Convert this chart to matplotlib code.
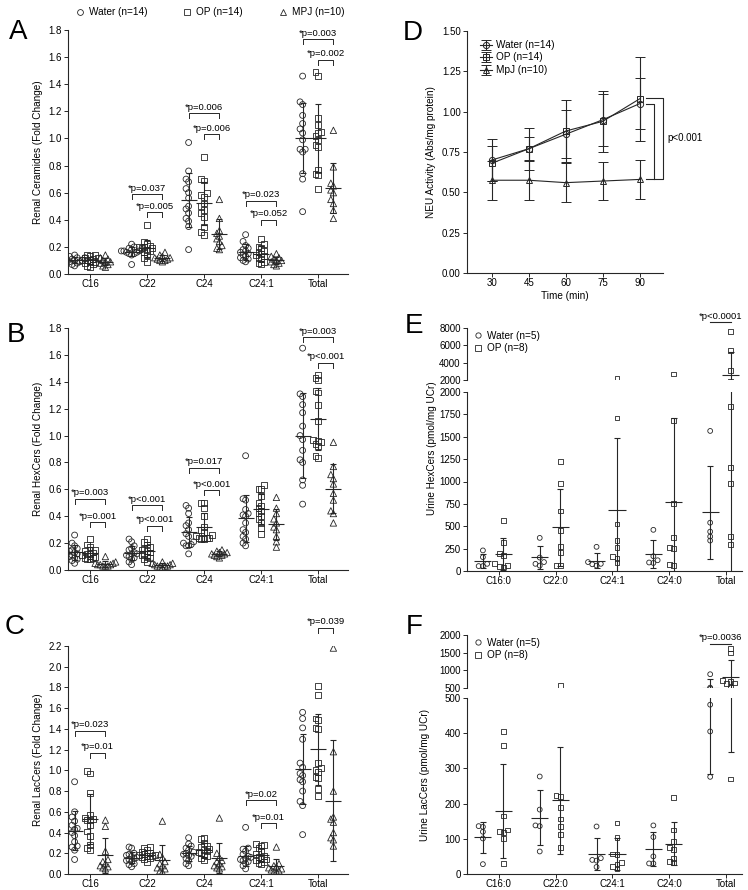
import matplotlib.pyplot as plt
import numpy as np
from matplotlib.lines import Line2D

plt.rcParams['font.family'] = ['Liberation Sans', 'DejaVu Sans']
plt.rcParams['font.size'] = 7
INK = '#262626'

renal_cats = ['C16', 'C22', 'C24', 'C24:1', 'Total']
urine_cats = ['C16:0', 'C22:0', 'C24:1', 'C24:0', 'Total']

# A - renal ceramides (fold change), one list per category
cer_water = [
    [0.14, 0.13, 0.12, 0.12, 0.11, 0.11, 0.10, 0.10, 0.10, 0.09, 0.09, 0.08, 0.07, 0.06],
    [0.22, 0.20, 0.19, 0.18, 0.18, 0.17, 0.17, 0.17, 0.16, 0.16, 0.15, 0.15, 0.14, 0.07],
    [0.97, 0.76, 0.70, 0.68, 0.63, 0.60, 0.56, 0.50, 0.48, 0.45, 0.41, 0.39, 0.35, 0.18],
    [0.29, 0.24, 0.21, 0.19, 0.18, 0.17, 0.16, 0.15, 0.14, 0.13, 0.12, 0.11, 0.10, 0.09],
    [1.46, 1.27, 1.25, 1.17, 1.11, 1.07, 1.04, 0.99, 0.92, 0.90, 0.74, 0.70, 0.46, 0.92],
]
cer_op = [
    [0.14, 0.14, 0.13, 0.12, 0.12, 0.11, 0.10, 0.10, 0.09, 0.09, 0.08, 0.07, 0.06, 0.05],
    [0.36, 0.24, 0.22, 0.21, 0.20, 0.20, 0.19, 0.19, 0.18, 0.17, 0.16, 0.14, 0.12, 0.09],
    [0.86, 0.70, 0.69, 0.60, 0.57, 0.52, 0.50, 0.47, 0.42, 0.45, 0.35, 0.31, 0.29, 0.58],
    [0.26, 0.22, 0.20, 0.19, 0.17, 0.16, 0.15, 0.14, 0.13, 0.12, 0.11, 0.09, 0.08, 0.07],
    [1.49, 1.46, 1.15, 1.10, 1.05, 1.04, 1.02, 0.99, 0.95, 0.94, 0.77, 0.74, 0.73, 0.63],
]
cer_mpj = [
    [0.14, 0.12, 0.11, 0.10, 0.09, 0.09, 0.08, 0.07, 0.06, 0.05],
    [0.16, 0.14, 0.13, 0.12, 0.12, 0.11, 0.11, 0.10, 0.10, 0.09],
    [0.55, 0.41, 0.32, 0.30, 0.28, 0.26, 0.24, 0.21, 0.19, 0.18],
    [0.15, 0.13, 0.12, 0.11, 0.10, 0.10, 0.09, 0.08, 0.07, 0.06],
    [1.06, 0.79, 0.67, 0.65, 0.62, 0.60, 0.55, 0.52, 0.47, 0.41],
]
cer_sig = [(1, 0, 0.59, '*p=0.037'), (1, 1, 0.455, '*p=0.005'),
           (2, 0, 1.185, '*p=0.006'), (2, 1, 1.03, '*p=0.006'),
           (3, 0, 0.54, '*p=0.023'), (3, 1, 0.40, '*p=0.052'),
           (4, 0, 1.73, '*p=0.003'), (4, 1, 1.58, '*p=0.002')]

# B - renal HexCers
hex_water = [
    [0.26, 0.20, 0.18, 0.16, 0.15, 0.14, 0.13, 0.12, 0.11, 0.10, 0.09, 0.08, 0.07, 0.05],
    [0.23, 0.21, 0.18, 0.16, 0.15, 0.13, 0.12, 0.12, 0.11, 0.10, 0.09, 0.08, 0.06, 0.04],
    [0.48, 0.46, 0.42, 0.35, 0.33, 0.30, 0.27, 0.25, 0.21, 0.20, 0.19, 0.18, 0.18, 0.12],
    [0.85, 0.53, 0.52, 0.45, 0.42, 0.41, 0.40, 0.35, 0.30, 0.28, 0.25, 0.23, 0.20, 0.18],
    [1.65, 1.31, 1.29, 1.23, 1.17, 1.07, 1.00, 0.97, 0.89, 0.82, 0.80, 0.67, 0.63, 0.49],
]
hex_op = [
    [0.23, 0.19, 0.17, 0.15, 0.14, 0.13, 0.12, 0.12, 0.11, 0.10, 0.09, 0.09, 0.08, 0.08],
    [0.23, 0.21, 0.19, 0.17, 0.16, 0.15, 0.14, 0.13, 0.12, 0.11, 0.10, 0.09, 0.08, 0.06],
    [0.50, 0.50, 0.46, 0.40, 0.32, 0.30, 0.28, 0.26, 0.25, 0.24, 0.24, 0.23, 0.23, 0.24],
    [0.63, 0.60, 0.60, 0.55, 0.50, 0.48, 0.46, 0.44, 0.42, 0.40, 0.38, 0.35, 0.31, 0.27],
    [1.45, 1.43, 1.41, 1.33, 1.32, 1.23, 1.11, 0.97, 0.96, 0.95, 0.94, 0.92, 0.85, 0.83],
]
hex_mpj = [
    [0.10, 0.06, 0.05, 0.05, 0.04, 0.04, 0.04, 0.03, 0.03, 0.03],
    [0.06, 0.05, 0.05, 0.04, 0.04, 0.03, 0.03, 0.03, 0.02, 0.02],
    [0.15, 0.14, 0.13, 0.13, 0.12, 0.12, 0.11, 0.11, 0.10, 0.09],
    [0.54, 0.46, 0.42, 0.38, 0.35, 0.32, 0.30, 0.25, 0.21, 0.17],
    [0.95, 0.77, 0.71, 0.68, 0.64, 0.57, 0.52, 0.44, 0.42, 0.35],
]
hex_sig = [(0, 0, 0.53, '*p=0.003'), (0, 1, 0.355, '*p=0.001'),
           (1, 0, 0.48, '*p<0.001'), (1, 1, 0.33, '*p<0.001'),
           (2, 0, 0.76, '*p=0.017'), (2, 1, 0.595, '*p<0.001'),
           (4, 0, 1.73, '*p=0.003'), (4, 1, 1.54, '*p<0.001')]

# C - renal LacCers
lac_water = [
    [0.89, 0.60, 0.55, 0.51, 0.47, 0.44, 0.43, 0.40, 0.37, 0.31, 0.27, 0.26, 0.23, 0.14],
    [0.26, 0.25, 0.20, 0.19, 0.18, 0.17, 0.16, 0.15, 0.14, 0.13, 0.12, 0.10, 0.09, 0.07],
    [0.35, 0.29, 0.27, 0.25, 0.23, 0.21, 0.20, 0.19, 0.18, 0.17, 0.15, 0.13, 0.10, 0.08],
    [0.45, 0.25, 0.24, 0.22, 0.19, 0.17, 0.16, 0.15, 0.14, 0.13, 0.12, 0.10, 0.08, 0.05],
    [1.56, 1.50, 1.41, 1.30, 1.07, 1.03, 0.97, 0.95, 0.91, 0.89, 0.80, 0.70, 0.66, 0.38],
]
lac_op = [
    [0.99, 0.97, 0.78, 0.57, 0.54, 0.53, 0.52, 0.52, 0.47, 0.41, 0.37, 0.28, 0.25, 0.23],
    [0.26, 0.25, 0.23, 0.21, 0.20, 0.19, 0.18, 0.18, 0.17, 0.17, 0.16, 0.15, 0.14, 0.12],
    [0.35, 0.34, 0.30, 0.27, 0.26, 0.24, 0.23, 0.22, 0.21, 0.20, 0.18, 0.17, 0.15, 0.13],
    [0.29, 0.28, 0.27, 0.25, 0.22, 0.19, 0.17, 0.16, 0.15, 0.14, 0.13, 0.12, 0.11, 0.10],
    [1.81, 1.73, 1.50, 1.49, 1.41, 1.40, 1.07, 1.02, 1.00, 0.98, 0.94, 0.93, 0.82, 0.75],
]
lac_mpj = [
    [0.52, 0.46, 0.22, 0.14, 0.12, 0.10, 0.08, 0.07, 0.06, 0.05],
    [0.51, 0.19, 0.16, 0.12, 0.10, 0.08, 0.06, 0.05, 0.03, 0.02],
    [0.54, 0.20, 0.16, 0.13, 0.12, 0.10, 0.08, 0.07, 0.06, 0.05],
    [0.26, 0.10, 0.08, 0.07, 0.06, 0.05, 0.04, 0.03, 0.02, 0.02],
    [2.18, 1.18, 0.80, 0.55, 0.53, 0.50, 0.40, 0.35, 0.33, 0.27],
]
lac_sig = [(0, 0, 1.38, '*p=0.023'), (0, 1, 1.17, '*p=0.01'),
           (3, 0, 0.71, '*p=0.02'), (3, 1, 0.49, '*p=0.01'),
           (4, 1, 2.375, '*p=0.039')]

# D - NEU activity
times = [30, 45, 60, 75, 90]
neu_water = [0.70, 0.77, 0.86, 0.95, 1.05]
neu_water_sd = [0.13, 0.13, 0.15, 0.16, 0.16]
neu_op = [0.68, 0.77, 0.88, 0.94, 1.08]
neu_op_sd = [0.11, 0.07, 0.19, 0.19, 0.26]
neu_mpj = [0.575, 0.575, 0.56, 0.57, 0.58]
neu_mpj_sd = [0.12, 0.12, 0.12, 0.12, 0.12]

# E - urine HexCers (pmol/mg UCr)
uhex_water = [[230, 155, 80, 55, 55], [370, 150, 100, 80, 60], [270, 100, 80, 75, 60],
              [460, 165, 120, 95, 90], [1565, 540, 440, 385, 340]]
uhex_op = [[560, 315, 195, 175, 80, 65, 50, 45],
           [1220, 975, 670, 455, 270, 205, 65, 60],
           [2190, 1710, 525, 340, 260, 165, 140, 95],
           [2700, 1680, 750, 375, 265, 250, 70, 65],
           [7600, 5400, 3100, 1835, 1160, 975, 385, 300]]

# F - urine LacCers (pmol/mg UCr)
ulac_water = [[134, 136, 120, 101, 28], [277, 183, 138, 136, 64], [135, 45, 38, 40, 20],
              [138, 105, 50, 30, 30], [890, 510, 481, 405, 276]]
ulac_op = [[405, 365, 165, 125, 120, 118, 100, 30],
           [565, 222, 220, 188, 156, 135, 112, 75],
           [145, 103, 57, 55, 33, 28, 22, 15],
           [218, 125, 92, 75, 70, 45, 35, 33],
           [1610, 1490, 720, 680, 640, 620, 530, 270]]

W, H = 748, 890


def rect(l, t, r, b):
    return [l / W, 1 - b / H, (r - l) / W, (b - t) / H]


def swarm(pix, dpx, dx):
    # simple beeswarm: pix are the y positions in pixels
    xs = np.zeros(len(pix))
    placed = []
    for i in np.argsort(pix):
        for k in [0, -1, 1, -2, 2, -3, 3, -4, 4, -5, 5]:
            x = k * dx
            if all(abs(pix[i] - py) >= dpx or abs(x - px) >= dx * 0.99 for py, px in placed):
                break
        placed.append((pix[i], x))
        xs[i] = x
    return xs


def style(ax):
    for s in ['top', 'right']:
        ax.spines[s].set_visible(False)
    for s in ['left', 'bottom']:
        ax.spines[s].set_color(INK)
        ax.spines[s].set_linewidth(0.8)
    ax.tick_params(length=3, width=0.7, color=INK, labelsize=7, pad=1.5)
    ax.tick_params(axis='x', pad=0.8)


def mean_sd(ax, x, v, half, cap):
    m = np.mean(v)
    sd = np.std(v, ddof=1)
    ax.hlines(m, x - half, x + half, color=INK, lw=0.8, zorder=3)
    ax.errorbar(x, m, yerr=sd, fmt='none', ecolor=INK, elinewidth=0.8,
                capsize=cap, capthick=0.8, zorder=3)


def renal_panel(ax, water, op, mpj, ymax, sig, ylabel, hpx):
    offs = [-0.27, 0.0, 0.27]
    for ci in range(5):
        for vals, mk, off in zip([water, op, mpj], ['o', 's', '^'], offs):
            v = np.array(vals[ci])
            xs = swarm(v / ymax * hpx, 5.0, 0.045)
            ax.scatter(ci + off + xs, v, s=18 if mk != '^' else 21, marker=mk,
                       facecolors='none', edgecolors=INK, linewidths=0.6, zorder=2)
            mean_sd(ax, ci + off, v, 0.14, 2.5)
    tick = ymax / hpx * 5
    for ci, g, y, txt in sig:
        x0, x1 = ci + offs[g], ci + offs[2]
        ax.plot([x0, x0, x1, x1], [y - tick, y, y, y - tick], color=INK, lw=0.7, clip_on=False)
        ax.text((x0 + x1) / 2, y + tick * 0.3, txt, ha='center', va='bottom', fontsize=6.8)
    ax.set_xlim(-0.386, 4.526)
    ax.set_ylim(0, ymax)
    ax.set_yticks(np.round(np.arange(0, ymax + 0.01, 0.2), 1))
    ax.yaxis.set_major_formatter(plt.FormatStrFormatter('%.1f'))
    ax.set_xticks(range(5))
    ax.set_xticklabels(renal_cats)
    ax.set_ylabel(ylabel, fontsize=7.2)
    style(ax)


def urine_panel(ax_t, ax_b, water, op, lo_max, hi_max, lo_h, hi_h, lo_ticks, hi_ticks,
                sig_y, sig_txt):
    offs = [-0.28, 0.08]

    def to_px(v):
        return np.where(v <= lo_max, v / lo_max * lo_h,
                        lo_h + 12 + (v - lo_max) / (hi_max - lo_max) * hi_h)

    for ci in range(5):
        for vals, mk, off in zip([water, op], ['o', 's'], offs):
            v = np.array(vals[ci], dtype=float)
            xs = swarm(to_px(v), 4.0, 0.075)
            for ax in (ax_t, ax_b):
                ax.scatter(ci + off + xs, v, s=12, marker=mk, facecolors='none',
                           edgecolors=INK, linewidths=0.6, zorder=2)
                mean_sd(ax, ci + off, v, 0.15, 2.5)
    x0, x1 = 4 + offs[0], 4 + offs[1]
    ax_t.plot([x0, x1], [sig_y, sig_y], color=INK, lw=0.8, clip_on=False)
    ax_t.text((x0 + x1) / 2, sig_y + (hi_max - lo_max) * 0.03, sig_txt, ha='center',
              va='bottom', fontsize=6.8)
    for ax in (ax_t, ax_b):
        ax.set_xlim(-0.56, 4.28)
        style(ax)
    ax_t.set_ylim(lo_max, hi_max)
    ax_t.set_yticks(hi_ticks)
    ax_t.spines['bottom'].set_visible(False)
    ax_t.set_xticks([])
    ax_b.set_ylim(0, lo_max)
    ax_b.set_yticks(lo_ticks)
    ax_b.set_xticks(range(5))
    ax_b.set_xticklabels(urine_cats)
    hs = [Line2D([], [], ls='none', marker='o', mfc='none', mec=INK, ms=3.8, mew=0.6),
          Line2D([], [], ls='none', marker='s', mfc='none', mec=INK, ms=3.8, mew=0.6)]
    ax_t.legend(hs, ['Water (n=5)', 'OP (n=8)'], loc='upper left', frameon=False,
                bbox_to_anchor=(0.0, 1.06), fontsize=7.2, handlelength=1.0,
                handletextpad=0.4, labelspacing=0.25, borderaxespad=0.2)


fig = plt.figure(figsize=(W / 100, H / 100), dpi=100)

axA = fig.add_axes(rect(68, 30, 348, 274))
renal_panel(axA, cer_water, cer_op, cer_mpj, 1.8, cer_sig, 'Renal Ceramides (Fold Change)', 244)
axB = fig.add_axes(rect(68, 328, 348, 570))
renal_panel(axB, hex_water, hex_op, hex_mpj, 1.8, hex_sig, 'Renal HexCers (Fold Change)', 242)
axC = fig.add_axes(rect(68, 646, 348, 874))
renal_panel(axC, lac_water, lac_op, lac_mpj, 2.2, lac_sig, 'Renal LacCers (Fold Change)', 228)

top_handles = [Line2D([], [], ls='none', marker=m, mfc='none', mec=INK, ms=4.2, mew=0.6)
               for m in ['o', 's', '^']]
fig.legend(top_handles, ['Water (n=14)', 'OP (n=14)', 'MPJ (n=10)'], ncol=3, loc='center',
           bbox_to_anchor=(210 / W, 1 - 12 / H), frameon=False, fontsize=7.2,
           columnspacing=3.6, handlelength=0.8, handletextpad=0.5)

# D
axD = fig.add_axes(rect(467, 31, 663, 273))
for y, sd, mk, lab in [(neu_water, neu_water_sd, 'o', 'Water (n=14)'),
                       (neu_op, neu_op_sd, 's', 'OP (n=14)'),
                       (neu_mpj, neu_mpj_sd, '^', 'MpJ (n=10)')]:
    axD.errorbar(times, y, yerr=sd, marker=mk, mfc='none', mec=INK, color=INK, ms=4.5,
                 mew=0.7, lw=0.8, elinewidth=0.8, capsize=3.5, capthick=0.8, label=lab)
axD.plot([92.7, 99.4, 99.4, 92.7], [1.085, 1.085, 0.585, 0.585], color=INK, lw=0.8, clip_on=False)
axD.plot([92.7, 95.7, 95.7], [1.05, 1.05, 0.585], color=INK, lw=0.8, clip_on=False)
axD.text(101, 0.836, 'p<0.001', ha='left', va='center', fontsize=7)
axD.set_xlim(20, 99.4)
axD.set_ylim(0, 1.5)
axD.set_xticks(times)
axD.set_yticks(np.arange(0, 1.51, 0.25))
axD.yaxis.set_major_formatter(plt.FormatStrFormatter('%.2f'))
axD.set_xlabel('Time (min)', fontsize=7.2, labelpad=2)
axD.set_ylabel('NEU Activity (Abs/mg protein)', fontsize=7.2)
axD.legend(loc='upper left', frameon=False, fontsize=7.2, handlelength=1.2,
           handletextpad=0.4, labelspacing=0.25, bbox_to_anchor=(0.02, 1.0))
style(axD)

# E
axEt = fig.add_axes(rect(467, 328, 742, 380))
axEb = fig.add_axes(rect(467, 392, 742, 571))
urine_panel(axEt, axEb, uhex_water, uhex_op, 2000, 8000, 179, 52,
            np.arange(0, 2001, 250), [2000, 4000, 6000, 8000], 8650, '*p<0.0001')
fig.text(432 / W, 1 - 448 / H, 'Urine HexCers (pmol/mg UCr)', rotation=90, ha='center',
         va='center', fontsize=7.2)

# F
axFt = fig.add_axes(rect(467, 635, 742, 688))
axFb = fig.add_axes(rect(467, 698, 742, 874))
urine_panel(axFt, axFb, ulac_water, ulac_op, 500, 2000, 176, 53,
            np.arange(0, 501, 100), [500, 1000, 1500, 2000], 1750, '*p=0.0036')
fig.text(425 / W, 1 - 775 / H, 'Urine LacCers (pmol/mg UCr)', rotation=90, ha='center',
         va='center', fontsize=7.2)

for letter, x, y in [('A', 18, 32), ('B', 16, 335), ('C', 15, 627),
                     ('D', 413, 33), ('E', 414, 326), ('F', 414, 627)]:
    fig.text(x / W, 1 - y / H, letter, fontsize=20, ha='center', va='center')

fig.savefig('out.png', dpi=100)
